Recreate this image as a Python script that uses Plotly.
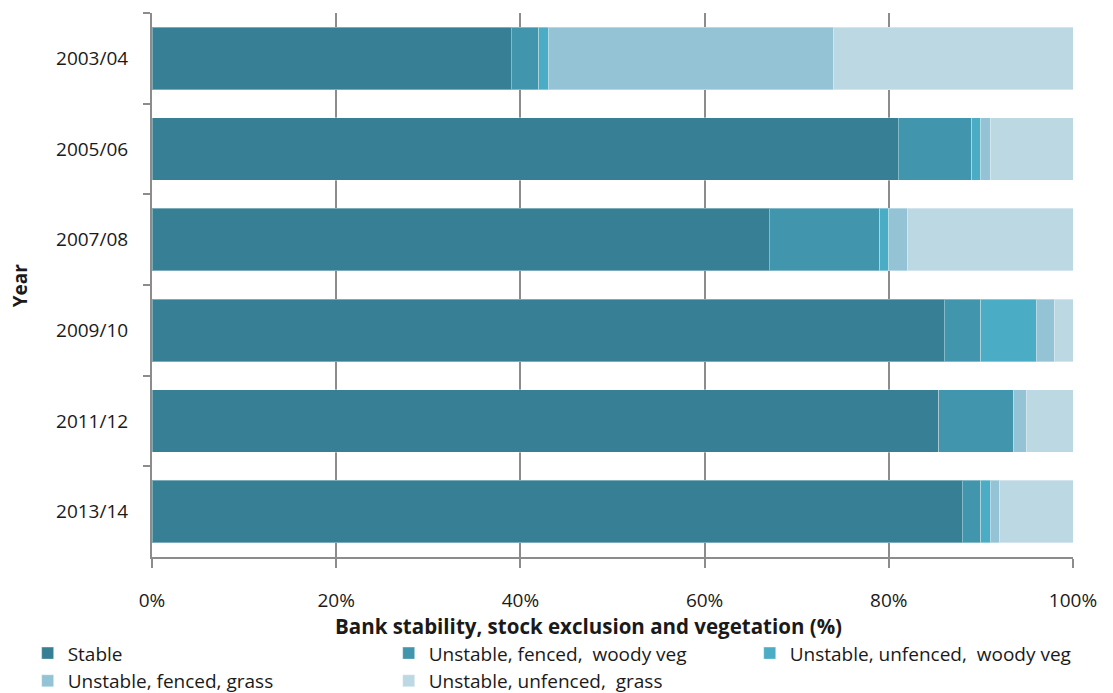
import plotly.graph_objects as go

years = ["2003/04", "2005/06", "2007/08", "2009/10", "2011/12", "2013/14"]
stable = [39, 81, 67, 86, 85.4, 88]
fenced_woody = [3, 8, 12, 4, 8.1, 2]
unfenced_woody = [1, 1, 1, 6, 0, 1]
fenced_grass = [31, 1, 2, 2, 1.4, 1]
unfenced_grass = [26, 9, 18, 2, 5.1, 8]

series = [
    ("Stable", stable, "#377f94", "legend"),
    ("Unstable, fenced,  woody veg", fenced_woody, "#4196ad", "legend2"),
    ("Unstable, unfenced,  woody veg", unfenced_woody, "#4badc5", "legend3"),
    ("Unstable, fenced, grass", fenced_grass, "#93c3d4", "legend"),
    ("Unstable, unfenced,  grass", unfenced_grass, "#bcd8e3", "legend2"),
]

FONT = "Open Sans"
FS = 19
fig = go.Figure()
for name, vals, col, leg in series:
    fig.add_trace(go.Bar(
        y=years, x=vals, name=name, orientation="h", legend=leg,
        marker=dict(color=col, line=dict(color="rgba(255,255,255,0.35)", width=1)),
    ))

legend_common = dict(
    orientation="v", xanchor="left", y=-0.142, yanchor="top",
    itemwidth=30, tracegroupgap=0, traceorder="normal",
    font=dict(size=FS), bgcolor="rgba(0,0,0,0)",
)

# page has an 8px body margin, so the figure is 8px smaller and offset
fig.update_layout(
    barmode="stack",
    bargap=0.31,
    width=1105, height=685,
    margin=dict(l=144, r=40, t=5, b=136, autoexpand=False),
    plot_bgcolor="white", paper_bgcolor="white",
    font=dict(family=FONT, size=FS, color="#1a1a1a"),
    xaxis=dict(
        range=[0, 100], tickvals=[0, 20, 40, 60, 80, 100],
        ticktext=["0%", "20%", "40%", "60%", "80%", "100%"],
        showgrid=True, gridcolor="#8c8c8c", gridwidth=2,
        showline=True, linecolor="#8c8c8c", linewidth=2,
        ticks="outside", ticklen=9, tickcolor="#8c8c8c", tickwidth=2,
        zeroline=False, automargin=False, ticklabelstandoff=16,
    ),
    yaxis=dict(
        autorange="reversed", showline=True, linecolor="#8c8c8c", linewidth=2,
        ticks="outside", ticklen=7, tickcolor="#8c8c8c", tickwidth=2,
        tickson="boundaries", automargin=False, ticklabelstandoff=18,
    ),
    legend=dict(x=-0.135, **legend_common),
    legend2=dict(x=0.257, **legend_common),
    legend3=dict(x=0.649, **legend_common),
    showlegend=True,
)

fig.add_annotation(text="<b>Bank stability, stock exclusion and vegetation (%)</b>",
                   xref="paper", yref="paper", x=0.474, y=-0.1265,
                   xanchor="center", yanchor="middle",
                   showarrow=False, font=dict(size=20.5))
fig.add_annotation(text="<b>Year</b>", xref="paper", yref="paper",
                   x=-0.143, y=0.5, xanchor="center", yanchor="middle",
                   textangle=-90, showarrow=False, font=dict(size=FS))

fig.write_html("out.html")
